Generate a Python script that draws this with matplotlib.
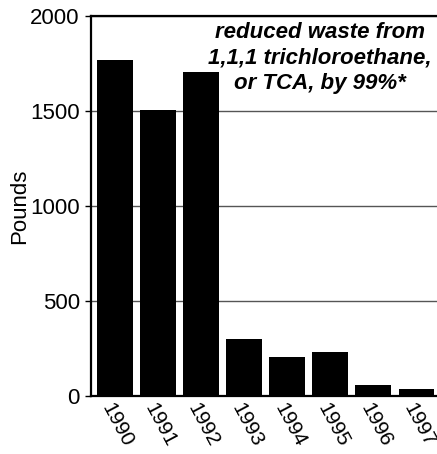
import matplotlib.pyplot as plt
import numpy as np

plt.rcParams['font.family'] = ['Liberation Sans', 'DejaVu Sans']

# dados
anos = ['1990', '1991', '1992', '1993', '1994', '1995', '1996', '1997']
libras = [1770, 1505, 1705, 300, 205, 232, 58, 37]

fig = plt.figure(figsize=(4.37, 4.54), dpi=100)
ax = fig.add_axes([0.208, 0.128, 0.80, 0.837])

x = np.arange(len(anos))
ax.yaxis.grid(True, color='#555555', linewidth=1.0, zorder=0)
ax.set_axisbelow(True)
ax.bar(x, libras, width=0.83, color='black', zorder=3)

ax.set_ylim(0, 2000)
ax.set_xlim(-0.56, 7.56)
ax.set_yticks([0, 500, 1000, 1500, 2000])
ax.tick_params(axis='y', labelsize=16, length=4, width=1, direction='out', pad=4)
ax.tick_params(axis='x', length=0, labelsize=15, pad=3)
ax.set_xticks(x)
ax.set_xticklabels(anos, rotation=-62, ha='left', va='top', rotation_mode='anchor')
ax.set_ylabel('Pounds', fontsize=16, labelpad=0)

for lado in ['left', 'bottom', 'top']:
    ax.spines[lado].set_linewidth(1.6)
ax.spines['right'].set_visible(False)

ax.text(0.655, 0.985, 'reduced waste from\n1,1,1 trichloroethane,\nor TCA, by 99%*',
        transform=ax.transAxes, ha='center', va='top', fontsize=16,
        fontweight='bold', fontstyle='italic', linespacing=1.3, zorder=5)

plt.savefig('out.png', dpi=100)
